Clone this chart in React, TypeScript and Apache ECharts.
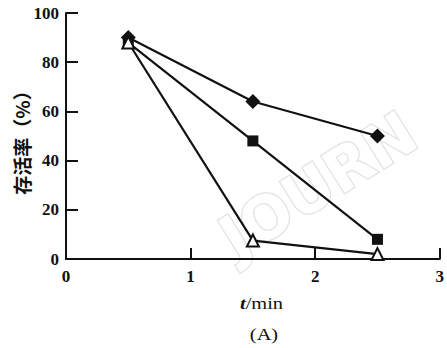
import React, { useEffect, useRef } from "react";
import * as echarts from "echarts";

const times = [0.5, 1.5, 2.5];
const diamondValues = [90, 64, 50];
const squareValues = [88, 48, 8];
const triangleValues = [88, 7.5, 2];
const xTicks = [0, 1, 2, 3];
const yTicks = [0, 20, 40, 60, 80, 100];

const serif = "'Liberation Serif', 'DejaVu Serif', serif";

export default function App() {
  const ref = useRef<HTMLDivElement>(null);
  useEffect(() => {
    if (!ref.current) return;
    const chart = echarts.init(ref.current, undefined, { renderer: "svg" });
    const mk = (vals: number[]) => times.map((t, i) => [t, vals[i]]);
    const lineStyle = { color: "#111", width: 2.2 };
    chart.setOption({
      animation: false,
      backgroundColor: "#fff",
      grid: { left: 66, top: 13, right: 2, bottom: 89, containLabel: false },
      xAxis: {
        type: "value",
        min: xTicks[0],
        max: xTicks[xTicks.length - 1],
        interval: 1,
        axisLine: { show: true, lineStyle: { color: "#111", width: 2 } },
        axisTick: { show: true, inside: true, length: 11, lineStyle: { color: "#111", width: 2 } },
        axisLabel: { color: "#111", fontFamily: serif, fontWeight: "bold", fontSize: 17, margin: 9 },
        splitLine: { show: false },
      },
      yAxis: {
        type: "value",
        min: yTicks[0],
        max: yTicks[yTicks.length - 1],
        interval: 20,
        axisLine: { show: true, lineStyle: { color: "#111", width: 2 } },
        axisTick: { show: true, inside: true, length: 12, lineStyle: { color: "#111", width: 2 } },
        axisLabel: { color: "#111", fontFamily: serif, fontWeight: "bold", fontSize: 17, margin: 7 },
        splitLine: { show: false },
      },
      graphic: [
        {
          type: "text",
          x: 21,
          y: 138,
          rotation: Math.PI / 2,
          style: {
            text: "存活率（%）",
            fill: "#111",
            font: "bold 19px 'Noto Sans CJK SC', sans-serif",
            textAlign: "center",
            textVerticalAlign: "middle",
          },
        },
        {
          type: "text",
          x: 240,
          y: 303,
          scaleX: 1.2,
          style: {
            rich: {
              t: { font: `italic bold 17px ${serif}`, fill: "#111" },
              m: { font: `17px ${serif}`, fill: "#111" },
            },
            text: "{t|t}{m|/min}",
            textVerticalAlign: "middle",
          },
        },
        {
          type: "text",
          x: 264,
          y: 334,
          scaleX: 1.2,
          style: {
            text: "(A)",
            fill: "#111",
            font: `17px ${serif}`,
            textAlign: "center",
            textVerticalAlign: "middle",
          },
        },
        {
          type: "text",
          x: 318,
          y: 185,
          rotation: 0.56,
          z: -10,
          silent: true,
          style: {
            text: "JOURN",
            fill: "#fff",
            stroke: "#e2e2e2",
            lineWidth: 2.5,
            font: "bold 60px 'DejaVu Sans', sans-serif",
            textAlign: "center",
            textVerticalAlign: "middle",
          },
        },
      ],
      series: [
        {
          type: "line",
          data: mk(diamondValues),
          symbol: "diamond",
          symbolSize: 15,
          itemStyle: { color: "#111" },
          lineStyle,
          z: 3,
        },
        {
          type: "line",
          data: mk(squareValues),
          symbol: "rect",
          symbolSize: 11,
          itemStyle: { color: "#111" },
          lineStyle,
          z: 3,
        },
        {
          type: "line",
          data: mk(triangleValues),
          symbol: "triangle",
          symbolSize: 12,
          itemStyle: { color: "#fff", borderColor: "#111", borderWidth: 2 },
          lineStyle,
          z: 4,
        },
      ],
    });
    return () => chart.dispose();
  }, []);
  return (
    <div
      ref={ref}
      style={{ position: "fixed", left: 0, top: 0, width: 447, height: 348 }}
    />
  );
}
